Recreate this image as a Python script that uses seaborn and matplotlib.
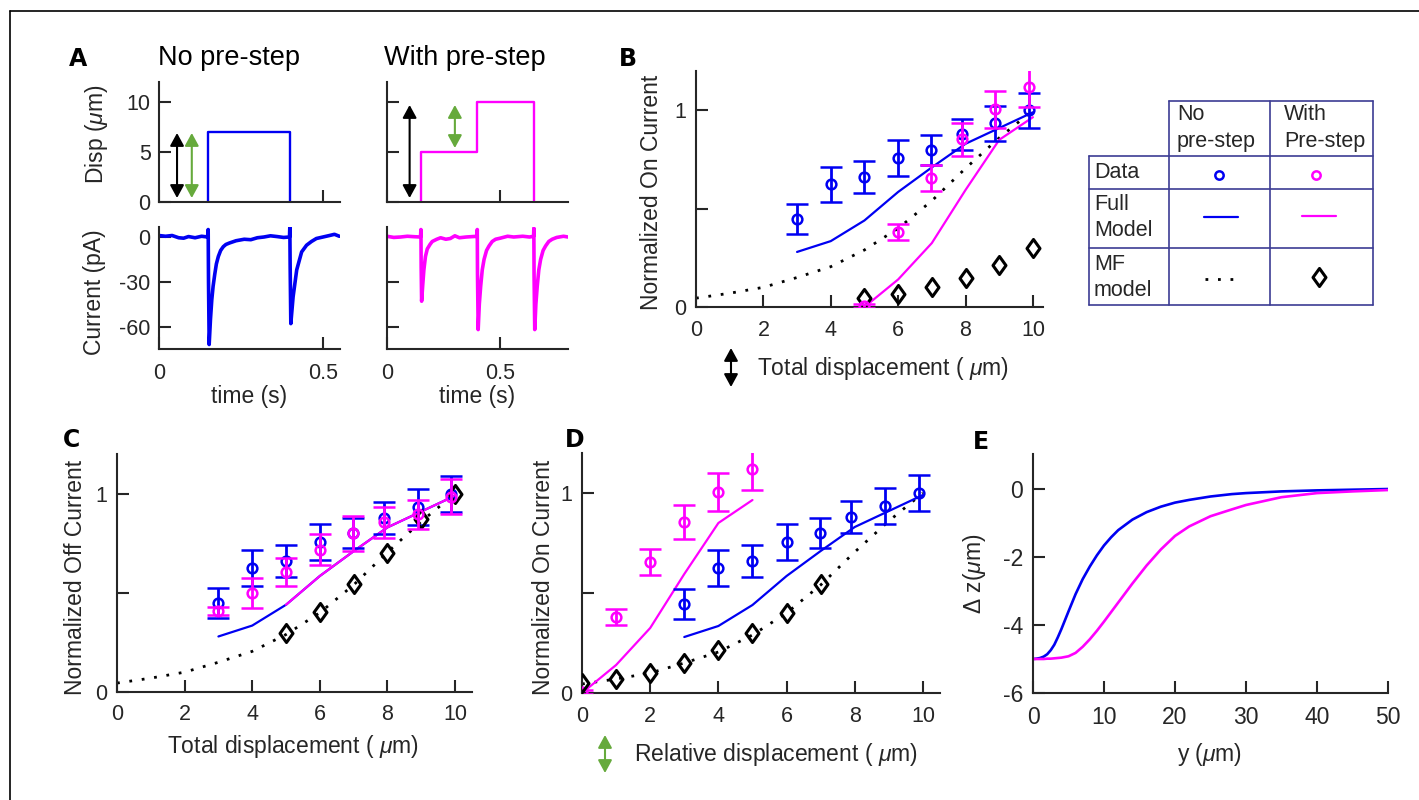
import matplotlib
matplotlib.use("Agg")
import matplotlib.pyplot as plt
from matplotlib.path import Path
import seaborn as sns

sns.set_theme(style="ticks")
plt.rcParams["font.family"] = ["Liberation Sans", "DejaVu Sans"]
plt.rcParams["mathtext.fontset"] = "custom"
plt.rcParams["mathtext.rm"] = "Liberation Sans"
plt.rcParams["mathtext.it"] = "Liberation Sans:italic"
plt.rcParams["axes.unicode_minus"] = False

BLUE = "#0000f2"
MAGENTA = "#ff00ff"
GREEN = "#66aa3c"
INK = "#262626"
TABLE = "#3c3c94"

# ---------------- data ----------------
# A: stimulus protocols (time in s, displacement in um)
step_nopre_t = [0.15, 0.15, 0.40, 0.40]
step_nopre_d = [0, 7, 7, 0]
step_pre_t = [0.15, 0.15, 0.40, 0.40, 0.65, 0.65]
step_pre_d = [0, 5, 5, 10, 10, 0]

# A: recorded currents (pA)
cur_nopre_t = [0.000, 0.020, 0.040, 0.060, 0.075, 0.090, 0.110, 0.130, 0.148,
               0.150, 0.151, 0.153, 0.157, 0.161, 0.165, 0.170, 0.175, 0.181,
               0.188, 0.196, 0.204, 0.215, 0.235, 0.260, 0.280, 0.300, 0.320,
               0.340, 0.360, 0.380, 0.398, 0.399, 0.400, 0.402, 0.409, 0.420,
               0.435, 0.450, 0.465, 0.480, 0.500, 0.520, 0.535, 0.550]
cur_nopre_i = [1.0, 0.5, 1.0, -0.5, -0.8, 0.3, -0.5, 0.5, 0.0,
               5.0, -30.0, -72.0, -55.0, -42.0, -33.0, -25.0, -18.0, -13.0,
               -9.0, -6.5, -5.0, -4.0, -2.5, -1.5, -1.8, -0.5, 0.0,
               0.8, 0.3, -0.3, 0.0, 7.0, -20.0, -58.0, -40.0, -22.0,
               -10.0, -5.5, -3.0, -1.0, 0.0, 1.0, 1.8, 0.5]
cur_pre_t = [0.000, 0.030, 0.060, 0.090, 0.120, 0.148, 0.150, 0.151, 0.153,
             0.158, 0.163, 0.170, 0.178, 0.190, 0.200, 0.220, 0.237, 0.260,
             0.280, 0.300, 0.320, 0.350, 0.380, 0.398, 0.399, 0.400, 0.403,
             0.408, 0.414, 0.421, 0.429, 0.440, 0.451, 0.465, 0.480, 0.500,
             0.533, 0.560, 0.600, 0.630, 0.648, 0.649, 0.650, 0.653, 0.658,
             0.664, 0.671, 0.679, 0.690, 0.701, 0.715, 0.730, 0.750, 0.780,
             0.800]
cur_pre_i = [0.5, -0.3, 0.0, 0.5, 0.2, 0.0, 5.0, -20.0, -43.0,
             -32.0, -22.0, -13.0, -8.0, -5.0, -3.0, -1.5, -0.5, -1.5,
             -1.0, 0.8, -0.5, 0.0, 0.3, 0.5, 5.0, -25.0, -62.0,
             -45.0, -33.0, -22.0, -15.0, -9.0, -6.0, -3.0, -1.5, -0.8,
             0.5, 0.0, 0.5, 0.0, 0.5, 6.0, -25.0, -62.0, -45.0,
             -33.0, -22.0, -15.0, -9.0, -6.0, -3.0, -1.5, -0.3, 0.5,
             0.0]

# B-D: displacement steps
disp_meas = [3.0, 4.0, 5.0, 6.0, 6.97, 7.89, 8.89, 9.88]
disp_pre_meas = [5.0, 6.0, 6.97, 7.89, 8.89, 9.88]
disp_int = [3, 4, 5, 6, 7, 8, 9, 10]
disp_pre_int = [5, 6, 7, 8, 9, 10]
rel_pre = [0, 1, 2, 3, 4, 5]

# normalized on current, no pre-step (data +- error)
on_nopre = [0.447, 0.624, 0.66, 0.757, 0.80, 0.878, 0.934, 1.0]
on_nopre_err = [0.075, 0.09, 0.08, 0.09, 0.076, 0.08, 0.09, 0.09]
# normalized on current, with pre-step
on_pre = [0.005, 0.38, 0.655, 0.853, 1.005, 1.12]
on_pre_err = [0.01, 0.04, 0.065, 0.085, 0.095, 0.105]
# normalized off current, with pre-step
off_pre = [0.41, 0.50, 0.605, 0.717, 0.80, 0.855, 0.895, 0.985]
off_pre_err = [0.02, 0.075, 0.07, 0.078, 0.087, 0.077, 0.075, 0.087]

# full model
full_nopre = [0.28, 0.335, 0.44, 0.585, 0.71, 0.83, 0.91, 0.99]
full_pre_on = [0.0, 0.14, 0.325, 0.595, 0.85, 0.965]
full_pre_off = [0.44, 0.585, 0.71, 0.83, 0.91, 0.99]

# MF model
mf_x = [0, 1, 2, 3, 4, 5, 6, 7, 8, 9, 10]
mf_nopre = [0.045, 0.07, 0.10, 0.15, 0.205, 0.29, 0.40, 0.54, 0.705, 0.86, 1.0]
mf_pre_on = [0.045, 0.066, 0.10, 0.147, 0.213, 0.30]
mf_pre_off = [0.30, 0.405, 0.545, 0.70, 0.87, 1.0]
mf_rel_x = [0, 1, 2, 3, 4, 5, 6, 7]
mf_rel = [0.05, 0.07, 0.10, 0.15, 0.215, 0.30, 0.40, 0.545]

# E: bundle deflection profile
dz_y = [0, 0.5, 1, 1.5, 2, 2.5, 3, 3.5, 4, 5, 6, 7, 8, 9, 10, 11, 12, 14,
        16, 18, 20, 22, 25, 28, 30, 35, 40, 45, 50]
dz_nopre = [-5.0, -4.99, -4.97, -4.93, -4.86, -4.74, -4.58, -4.36, -4.12,
            -3.6, -3.09, -2.65, -2.28, -1.95, -1.66, -1.42, -1.21, -0.9,
            -0.68, -0.52, -0.4, -0.32, -0.22, -0.15, -0.12, -0.07, -0.04,
            -0.02, 0.0]
dz_pre = [-5.0, -5.0, -5.0, -5.0, -4.99, -4.99, -4.98, -4.97, -4.96,
          -4.92, -4.82, -4.64, -4.42, -4.17, -3.9, -3.62, -3.34, -2.78,
          -2.25, -1.78, -1.38, -1.1, -0.8, -0.6, -0.47, -0.24, -0.12,
          -0.07, -0.03]

# ---------------- layout ----------------
W, H = 1419, 800
fig = plt.figure(figsize=(W / 100, H / 100), dpi=100)

# open diamond, a little wider than matplotlib's thin diamond
DIAMOND = Path([(0, 1), (0.72, 0), (0, -1), (-0.72, 0), (0, 1)],
               [Path.MOVETO, Path.LINETO, Path.LINETO, Path.LINETO,
                Path.CLOSEPOLY])


def px_axes(x0, y0, x1, y1):
    return fig.add_axes([x0 / W, 1 - y1 / H, (x1 - x0) / W, (y1 - y0) / H])


def style(ax, size=15.5, xpad=9, ypad=7):
    sns.despine(ax=ax)
    ax.set_facecolor("none")
    for s in ("left", "bottom"):
        ax.spines[s].set_linewidth(1.5)
        ax.spines[s].set_color(INK)
    ax.tick_params(direction="in", length=8.5, width=1.5, colors=INK,
                   labelsize=size)
    ax.tick_params(axis="x", pad=xpad)
    ax.tick_params(axis="y", pad=ypad)
    ax.set_xlabel("")
    ax.set_ylabel("")


def line(ax, x, y, color, lw=1.6, ls="-", z=2):
    sns.lineplot(x=x, y=y, ax=ax, color=color, lw=lw, linestyle=ls,
                 estimator=None, sort=False, legend=False, zorder=z)


def data_pts(ax, x, y, err, color, z=4):
    ax.errorbar(x, y, yerr=err, fmt="o", ms=7, mfc="none", mec=color,
                mew=1.8, ecolor=color, elinewidth=2, capsize=8, capthick=2,
                zorder=z)


def diamonds(ax, x, y, z=5):
    ax.plot(x, y, linestyle="none", marker=DIAMOND, ms=13, mfc="none",
            mec="black", mew=2.2, zorder=z)


DOT = (0, (1, 3.5))

# ---- A ----
axA1 = px_axes(159, 82, 340, 202)
axA2 = px_axes(387, 82, 568, 202)
axA3 = px_axes(159, 227, 340, 349)
axA4 = px_axes(387, 227, 568, 349)

line(axA1, step_nopre_t, step_nopre_d, BLUE, lw=1.7)
line(axA2, step_pre_t, step_pre_d, MAGENTA, lw=1.7)
line(axA3, cur_nopre_t, cur_nopre_i, BLUE, lw=2.6)
line(axA4, cur_pre_t, cur_pre_i, MAGENTA, lw=2.6)

for ax, xmax in ((axA1, 0.552), (axA3, 0.552), (axA2, 0.80), (axA4, 0.80)):
    style(ax, size=15.5, xpad=10, ypad=6)
    ax.set_xlim(0, xmax)
    ax.set_xticks([0, 0.5])
for ax in (axA1, axA2):
    ax.set_ylim(0, 12)
    ax.set_yticks([0, 5, 10])
    ax.set_xticklabels([])
for ax in (axA3, axA4):
    ax.set_ylim(-75, 6.7)
    ax.set_yticks([-60, -30, 0])
    ax.set_xticklabels(["0", "0.5"])
axA2.set_yticklabels([])
axA4.set_yticklabels([])


def dbl_arrow(ax, x, y0, y1, color, xycoords="data"):
    ax.annotate("", xy=(x, y1), xytext=(x, y0), xycoords=xycoords,
                textcoords=xycoords,
                arrowprops=dict(arrowstyle="<|-|>,head_length=0.55,head_width=0.3",
                                color=color, lw=1.5, shrinkA=0, shrinkB=0,
                                mutation_scale=14))


dbl_arrow(axA1, 0.055, 0.4, 6.9, "black")
dbl_arrow(axA1, 0.100, 0.4, 6.9, GREEN)
dbl_arrow(axA2, 0.100, 0.4, 9.7, "black")
dbl_arrow(axA2, 0.300, 5.4, 9.7, GREEN)

# ---- B ----
axB = px_axes(696, 71, 1043, 307)
line(axB, mf_x, mf_nopre, "black", lw=2.0, ls=DOT, z=1)
line(axB, disp_int, full_nopre, BLUE)
line(axB, disp_pre_int, full_pre_on, MAGENTA)
diamonds(axB, disp_pre_int, mf_pre_on)
data_pts(axB, disp_meas, on_nopre, on_nopre_err, BLUE)
data_pts(axB, disp_pre_meas, on_pre, on_pre_err, MAGENTA, z=6)

# ---- C ----
axC = px_axes(117, 454, 472, 692)
line(axC, mf_x, mf_nopre, "black", lw=2.0, ls=DOT, z=1)
line(axC, disp_int, full_nopre, BLUE)
line(axC, disp_pre_int, full_pre_off, MAGENTA, z=3)
diamonds(axC, disp_pre_int, mf_pre_off)
data_pts(axC, disp_meas, on_nopre, on_nopre_err, BLUE)
data_pts(axC, disp_meas, off_pre, off_pre_err, MAGENTA, z=6)

# ---- D ----
axD = px_axes(582, 453, 940, 693)
line(axD, mf_x, mf_nopre, "black", lw=2.0, ls=DOT, z=1)
line(axD, disp_int, full_nopre, BLUE)
line(axD, rel_pre, full_pre_on, MAGENTA)
data_pts(axD, disp_meas, on_nopre, on_nopre_err, BLUE)
data_pts(axD, rel_pre, on_pre, on_pre_err, MAGENTA, z=6)
diamonds(axD, mf_rel_x, mf_rel, z=7)

for ax, xmax in ((axB, 10.3), (axC, 10.5), (axD, 10.5)):
    style(ax)
    ax.set_xlim(0, xmax)
    ax.set_ylim(0, 1.2)
    ax.set_xticks([0, 2, 4, 6, 8, 10])
    ax.set_yticks([0, 0.5, 1])
    ax.set_yticklabels(["0", "", "1"])

# ---- E ----
axE = px_axes(1033, 454, 1388, 693)
line(axE, dz_y, dz_nopre, BLUE, lw=1.9)
line(axE, dz_y, dz_pre, MAGENTA, lw=1.9)
style(axE, size=16.5)
axE.set_xlim(0, 50)
axE.set_ylim(-6, 1.03)
axE.set_xticks([0, 10, 20, 30, 40, 50])
axE.set_yticks([-6, -4, -2, 0])

# ---- overlay: frame, labels, legend table ----
ov = fig.add_axes([0, 0, 1, 1], zorder=10)
ov.set_xlim(0, W)
ov.set_ylim(H, 0)
ov.axis("off")
ov.patch.set_alpha(0)

ov.plot([10, W], [11, 11], color="black", lw=1.2)
ov.plot([10, 10], [11, H], color="black", lw=1.2)

LETTER = dict(fontsize=17, fontweight="bold", color="black",
              family=["Liberation Sans Narrow", "DejaVu Sans"],
              ha="center", va="center")
for s, x, y in (("A", 78, 59), ("B", 628, 59), ("C", 72, 440),
                ("D", 575, 440), ("E", 981, 442)):
    ov.text(x, y, s, **LETTER)

ov.text(229, 58, "No pre-step", fontsize=19.5, color="black", ha="center", va="center")
ov.text(465, 58, "With pre-step", fontsize=19.5, color="black", ha="center", va="center")

LAB = dict(fontsize=16.5, color=INK, ha="center", va="center")
ov.text(97, 134, r"Disp ($\mu$m)", rotation=90, **LAB)
ov.text(95, 292, "Current (pA)", rotation=90, **LAB)
ov.text(249, 397, "time (s)", **LAB)
ov.text(477, 397, "time (s)", **LAB)
ov.text(652, 192, "Normalized On Current", rotation=90, **LAB)
ov.text(883, 368, r"Total displacement ( $\mu$m)", **LAB)
ov.text(75, 577, "Normalized Off Current", rotation=90, **LAB)
ov.text(293, 747, r"Total displacement ( $\mu$m)", **LAB)
ov.text(543, 577, "Normalized On Current", rotation=90, **LAB)
ov.text(776, 755, r"Relative displacement ( $\mu$m)", **LAB)
ov.text(975, 574, r"$\Delta$ z($\mu$m)", rotation=90, **LAB)
ov.text(1210, 755, r"y ($\mu$m)", **LAB)

dbl_arrow(ov, 731, 387, 348, "black")
dbl_arrow(ov, 605, 773, 735, GREEN)

# legend table
TL = dict(color=TABLE, lw=1.2)
ov.plot([1169, 1373], [101, 101], **TL)
for y in (156, 189, 248, 305):
    ov.plot([1089, 1373], [y, y], **TL)
ov.plot([1089, 1089], [156, 305], **TL)
for x in (1169, 1270, 1373):
    ov.plot([x, x], [101, 305], **TL)

TT = dict(fontsize=15.5, color=INK, ha="left", va="center")
ov.text(1177, 115, "No", **TT)
ov.text(1177, 141, "pre-step", **TT)
ov.text(1284, 115, "With", **TT)
ov.text(1284, 141, "Pre-step", **TT)
ov.text(1094, 173, "Data", **TT)
ov.text(1094, 205, "Full", **TT)
ov.text(1094, 231, "Model", **TT)
ov.text(1094, 265, "MF", **TT)
ov.text(1094, 291, "model", **TT)

ov.plot([1219], [175], marker="o", ms=6, mfc="none", mec=BLUE, mew=1.8)
ov.plot([1316], [175], marker="o", ms=6, mfc="none", mec=MAGENTA, mew=1.8)
ov.plot([1204, 1238], [217, 217], color=BLUE, lw=1.6)
ov.plot([1302, 1336], [216, 216], color=MAGENTA, lw=1.6)
ov.plot([1205, 1240], [279, 279], color="black", lw=2.0, linestyle=DOT)
ov.plot([1319], [277], marker=DIAMOND, ms=13, mfc="none", mec="black", mew=2.2)

fig.savefig("out.png", dpi=100)
